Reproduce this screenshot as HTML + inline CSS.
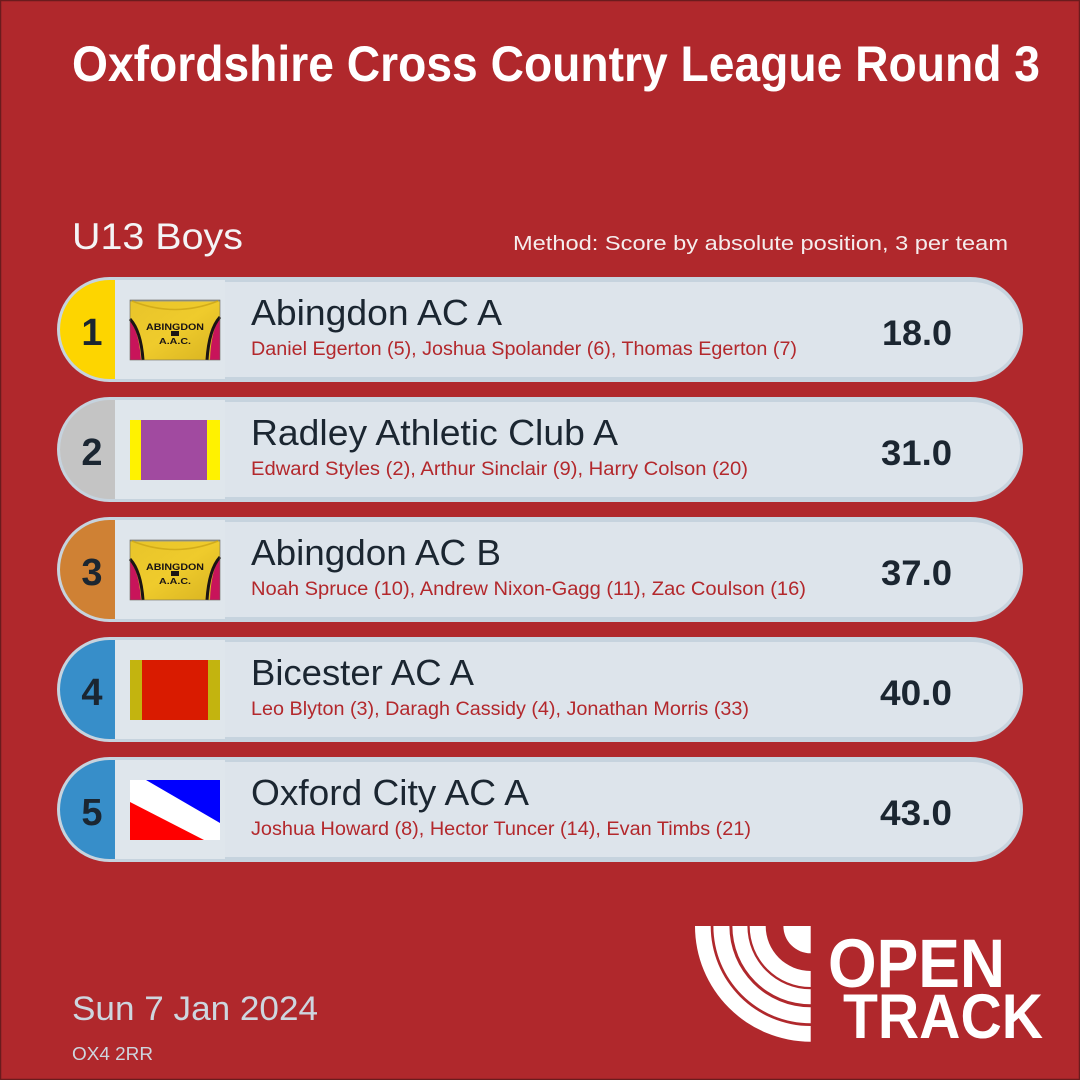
<!DOCTYPE html>
<html>
<head>
<meta charset="utf-8">
<style>
  html,body{margin:0;padding:0;background:#b0282c;}
  svg{display:block;}
  text{font-family:"Liberation Sans",sans-serif;}
</style>
</head>
<body>
<svg width="1080" height="1080" viewBox="0 0 1080 1080" xmlns="http://www.w3.org/2000/svg">
  <defs>
    <linearGradient id="vestY" x1="0" y1="0" x2="1" y2="1">
      <stop offset="0" stop-color="#e8c42a"/>
      <stop offset="0.5" stop-color="#efcb2c"/>
      <stop offset="1" stop-color="#d8b321"/>
    </linearGradient>
    <g id="abvest">
      <rect x="0" y="0" width="90" height="60" fill="url(#vestY)"/>
      <rect x="0" y="0" width="90" height="1.5" fill="#9a9a88"/>
      <path d="M2,1 Q45,18 88,1" fill="none" stroke="#d2ac1a" stroke-width="1.5"/>
      <path d="M0,20 Q9,32 11,60 L0,60 Z" fill="#c8145a"/>
      <path d="M0,19 Q11,31 13,60" fill="none" stroke="#1a1414" stroke-width="3"/>
      <path d="M90,18 Q81,30 80,60 L90,60 Z" fill="#c8145a"/>
      <path d="M90,17 Q79,29 77,60" fill="none" stroke="#1a1414" stroke-width="3"/>
      <text x="45" y="30" font-size="9" font-weight="bold" fill="#1a1414" text-anchor="middle" textLength="58" lengthAdjust="spacingAndGlyphs">ABINGDON</text>
      <rect x="41" y="31" width="8" height="5" fill="#1a1414"/>
      <text x="45" y="44" font-size="8.5" font-weight="bold" fill="#1a1414" text-anchor="middle" textLength="32" lengthAdjust="spacingAndGlyphs">A.A.C.</text>
      <rect x="0" y="0" width="90" height="60" fill="none" stroke="#6a6a60" stroke-width="0.6"/>
    </g>
  </defs>

  <rect x="0" y="0" width="1080" height="1080" fill="#b0282c"/>
  <rect x="0.5" y="0.5" width="1079" height="1079" fill="none" stroke="#6b1b1d" stroke-width="1.5"/>

  <!-- Title -->
  <text x="72" y="81" font-size="50" font-weight="bold" fill="#ffffff" textLength="968" lengthAdjust="spacingAndGlyphs">Oxfordshire Cross Country League Round 3</text>

  <text x="72" y="249" font-size="37" fill="#f4f4f6" textLength="171" lengthAdjust="spacingAndGlyphs">U13 Boys</text>
  <text x="513" y="250" font-size="20.5" fill="#f5eded" textLength="495" lengthAdjust="spacingAndGlyphs">Method: Score by absolute position, 3 per team</text>

  <!-- Row 1 -->
  <g transform="translate(0,277)">
    <rect x="57" y="0" width="966" height="105" rx="52.5" fill="#c6d3de"/>
    <rect x="60" y="5" width="960" height="95" rx="47.5" fill="#dde4eb"/>
    <rect x="115" y="3" width="110" height="99" fill="#dfe6ec"/>
    <path d="M115,3 L109.5,3 A49.5,49.5 0 0 0 109.5,102 L115,102 Z" fill="#fdd500"/>
    <text x="92" y="68" font-size="38" font-weight="bold" fill="#1b2631" text-anchor="middle">1</text>
    <use href="#abvest" x="130" y="23"/>
    <text x="251" y="48" font-size="36" fill="#1b2631" textLength="251" lengthAdjust="spacingAndGlyphs">Abingdon AC A</text>
    <text x="251" y="78" font-size="19" fill="#b3282c" textLength="546" lengthAdjust="spacingAndGlyphs">Daniel Egerton (5), Joshua Spolander (6), Thomas Egerton (7)</text>
    <text x="952" y="68" font-size="35" font-weight="bold" fill="#1b2631" text-anchor="end" textLength="70" lengthAdjust="spacingAndGlyphs">18.0</text>
  </g>

  <!-- Row 2 -->
  <g transform="translate(0,397)">
    <rect x="57" y="0" width="966" height="105" rx="52.5" fill="#c6d3de"/>
    <rect x="60" y="5" width="960" height="95" rx="47.5" fill="#dde4eb"/>
    <rect x="115" y="3" width="110" height="99" fill="#dfe6ec"/>
    <path d="M115,3 L109.5,3 A49.5,49.5 0 0 0 109.5,102 L115,102 Z" fill="#c4c4c4"/>
    <text x="92" y="68" font-size="38" font-weight="bold" fill="#1b2631" text-anchor="middle">2</text>
    <rect x="130" y="23" width="90" height="60" fill="#fff200"/>
    <rect x="141" y="23" width="66" height="60" fill="#a14aa0"/>
    <text x="251" y="48" font-size="36" fill="#1b2631" textLength="367" lengthAdjust="spacingAndGlyphs">Radley Athletic Club A</text>
    <text x="251" y="78" font-size="19" fill="#b3282c" textLength="497" lengthAdjust="spacingAndGlyphs">Edward Styles (2), Arthur Sinclair (9), Harry Colson (20)</text>
    <text x="952" y="68" font-size="35" font-weight="bold" fill="#1b2631" text-anchor="end" textLength="71" lengthAdjust="spacingAndGlyphs">31.0</text>
  </g>

  <!-- Row 3 -->
  <g transform="translate(0,517)">
    <rect x="57" y="0" width="966" height="105" rx="52.5" fill="#c6d3de"/>
    <rect x="60" y="5" width="960" height="95" rx="47.5" fill="#dde4eb"/>
    <rect x="115" y="3" width="110" height="99" fill="#dfe6ec"/>
    <path d="M115,3 L109.5,3 A49.5,49.5 0 0 0 109.5,102 L115,102 Z" fill="#cf8134"/>
    <text x="92" y="68" font-size="38" font-weight="bold" fill="#1b2631" text-anchor="middle">3</text>
    <use href="#abvest" x="130" y="23"/>
    <text x="251" y="48" font-size="36" fill="#1b2631" textLength="250" lengthAdjust="spacingAndGlyphs">Abingdon AC B</text>
    <text x="251" y="78" font-size="19" fill="#b3282c" textLength="555" lengthAdjust="spacingAndGlyphs">Noah Spruce (10), Andrew Nixon-Gagg (11), Zac Coulson (16)</text>
    <text x="952" y="68" font-size="35" font-weight="bold" fill="#1b2631" text-anchor="end" textLength="71" lengthAdjust="spacingAndGlyphs">37.0</text>
  </g>

  <!-- Row 4 -->
  <g transform="translate(0,637)">
    <rect x="57" y="0" width="966" height="105" rx="52.5" fill="#c6d3de"/>
    <rect x="60" y="5" width="960" height="95" rx="47.5" fill="#dde4eb"/>
    <rect x="115" y="3" width="110" height="99" fill="#dfe6ec"/>
    <path d="M115,3 L109.5,3 A49.5,49.5 0 0 0 109.5,102 L115,102 Z" fill="#378ec9"/>
    <text x="92" y="68" font-size="38" font-weight="bold" fill="#1b2631" text-anchor="middle">4</text>
    <rect x="130" y="23" width="90" height="60" fill="#c3b40f"/>
    <rect x="142" y="23" width="66" height="60" fill="#d91b00"/>
    <text x="251" y="48" font-size="36" fill="#1b2631" textLength="223" lengthAdjust="spacingAndGlyphs">Bicester AC A</text>
    <text x="251" y="78" font-size="19" fill="#b3282c" textLength="498" lengthAdjust="spacingAndGlyphs">Leo Blyton (3), Daragh Cassidy (4), Jonathan Morris (33)</text>
    <text x="952" y="68" font-size="35" font-weight="bold" fill="#1b2631" text-anchor="end" textLength="72" lengthAdjust="spacingAndGlyphs">40.0</text>
  </g>

  <!-- Row 5 -->
  <g transform="translate(0,757)">
    <rect x="57" y="0" width="966" height="105" rx="52.5" fill="#c6d3de"/>
    <rect x="60" y="5" width="960" height="95" rx="47.5" fill="#dde4eb"/>
    <rect x="115" y="3" width="110" height="99" fill="#dfe6ec"/>
    <path d="M115,3 L109.5,3 A49.5,49.5 0 0 0 109.5,102 L115,102 Z" fill="#378ec9"/>
    <text x="92" y="68" font-size="38" font-weight="bold" fill="#1b2631" text-anchor="middle">5</text>
    <g transform="translate(130,23)">
      <rect x="0" y="0" width="90" height="60" fill="#ffffff"/>
      <polygon points="16,0 90,0 90,43" fill="#0000ff"/>
      <polygon points="0,22 74,60 0,60" fill="#ff0000"/>
    </g>
    <text x="251" y="48" font-size="36" fill="#1b2631" textLength="278" lengthAdjust="spacingAndGlyphs">Oxford City AC A</text>
    <text x="251" y="78" font-size="19" fill="#b3282c" textLength="500" lengthAdjust="spacingAndGlyphs">Joshua Howard (8), Hector Tuncer (14), Evan Timbs (21)</text>
    <text x="952" y="68" font-size="35" font-weight="bold" fill="#1b2631" text-anchor="end" textLength="72" lengthAdjust="spacingAndGlyphs">43.0</text>
  </g>

  <!-- Footer -->
  <text x="72" y="1020" font-size="34" fill="#cdd6df" textLength="246" lengthAdjust="spacingAndGlyphs">Sun 7 Jan 2024</text>
  <text x="72" y="1060" font-size="18" fill="#cdd6df" textLength="81" lengthAdjust="spacingAndGlyphs">OX4 2RR</text>

  <!-- OpenTrack logo -->
  <g fill="#ffffff">
    <path d="M695,926 A115.7,115.7 0 0 0 810.7,1041.7 L810.7,1026 A100,100 0 0 1 710.7,926 Z"/>
    <path d="M713.4,926 A97.3,97.3 0 0 0 810.7,1023.3 L810.7,1007.3 A81.3,81.3 0 0 1 729.4,926 Z"/>
    <path d="M732.4,926 A78.3,78.3 0 0 0 810.7,1004.3 L810.7,989.3 A63.3,63.3 0 0 1 747.4,926 Z"/>
    <path d="M749.7,926 A61,61 0 0 0 810.7,987 L810.7,971 A45,45 0 0 1 765.7,926 Z"/>
    <path d="M783.4,926 A27.3,27.3 0 0 0 810.7,953.3 L810.7,926 Z"/>
  </g>
  <text x="828" y="987" font-size="69" font-weight="bold" fill="#ffffff" textLength="177" lengthAdjust="spacingAndGlyphs">OPEN</text>
  <text x="843" y="1038" font-size="63" font-weight="bold" fill="#ffffff" textLength="200" lengthAdjust="spacingAndGlyphs">TRACK</text>
</svg>
</body>
</html>
